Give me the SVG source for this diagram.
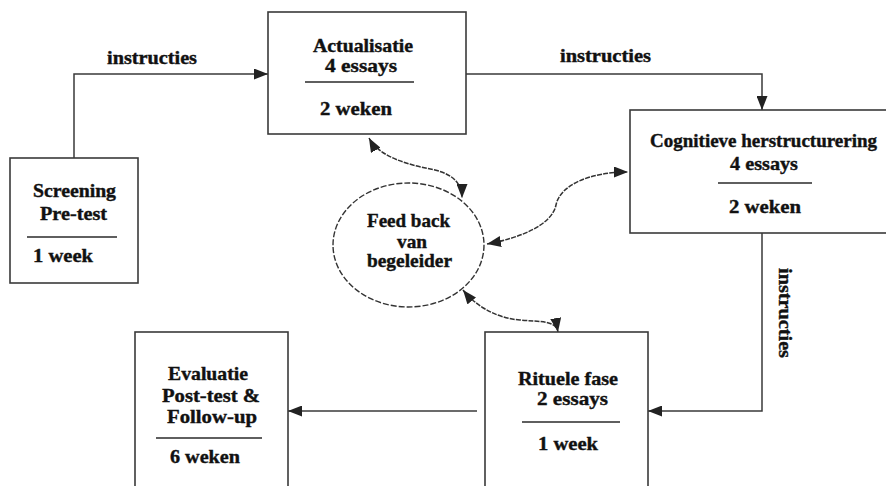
<svg xmlns="http://www.w3.org/2000/svg" width="886" height="486" viewBox="0 0 886 486">
<style>
.box{fill:#fff;stroke:#3a3a3a;stroke-width:1.6}
.div{stroke:#2a2a2a;stroke-width:1.4}
.t{font-family:"Liberation Serif","Times New Roman",serif;font-weight:bold;font-size:19px;fill:#111;stroke:#111;stroke-width:0.4}
.ln{fill:none;stroke:#3a3a3a;stroke-width:1.5}
.cv{fill:none;stroke:#333;stroke-width:1.5;stroke-dasharray:5 1.2}
</style>
<defs>
<marker id="ah" viewBox="0 0 14 11" refX="14" refY="5.5" markerWidth="14" markerHeight="11" markerUnits="userSpaceOnUse" orient="auto-start-reverse">
<path d="M0,0 L14,5.5 L0,11 z" fill="#222"/>
</marker>
</defs>
<rect width="886" height="486" fill="#fff"/>
<g id="connectors">
<path class="ln" d="M74,158 L74,74 L268,74" marker-end="url(#ah)"/>
<path class="ln" d="M466,74 L762,74 L762,110" marker-end="url(#ah)"/>
<path class="ln" d="M762,233 L762,411 L648,411" marker-end="url(#ah)"/>
<path class="ln" d="M477,411 L288,411" marker-end="url(#ah)"/>
<path class="cv" d="M369,138 C380,158 410,165 435,170 C455,175 462,185 462,198" marker-start="url(#ah)" marker-end="url(#ah)"/>
<path class="cv" d="M487,244 C520,238 552,225 556,205 C560,185 590,172 628,172" marker-start="url(#ah)" marker-end="url(#ah)"/>
<path class="cv" d="M463,290 C475,305 495,318 520,320 C540,322 556,320 558,332" marker-start="url(#ah)" marker-end="url(#ah)"/>
<text class="t" x="107" y="64" textLength="90" lengthAdjust="spacingAndGlyphs">instructies</text>
<text class="t" x="560" y="62" textLength="91" lengthAdjust="spacingAndGlyphs">instructies</text>
<text class="t" transform="translate(779,268) rotate(90)" x="0" y="0" textLength="90" lengthAdjust="spacingAndGlyphs">instructies</text>
</g>
<g id="screening">
<rect class="box" x="10" y="158" width="128" height="125"/>
<line class="div" x1="27" y1="237" x2="117" y2="237"/>
<text class="t" x="33" y="197" textLength="83" lengthAdjust="spacingAndGlyphs">Screening</text>
<text class="t" x="40" y="220" textLength="67" lengthAdjust="spacingAndGlyphs">Pre-test</text>
<text class="t" x="33" y="262" textLength="60" lengthAdjust="spacingAndGlyphs">1 week</text>
</g>
<g id="actualisatie">
<rect class="box" x="268" y="12" width="198" height="122"/>
<line class="div" x1="305" y1="82" x2="414" y2="82"/>
<text class="t" x="313" y="52" textLength="100" lengthAdjust="spacingAndGlyphs">Actualisatie</text>
<text class="t" x="325" y="72" textLength="72" lengthAdjust="spacingAndGlyphs">4 essays</text>
<text class="t" x="320" y="115" textLength="72" lengthAdjust="spacingAndGlyphs">2 weken</text>
</g>
<g id="cognitieve">
<rect class="box" x="630" y="110" width="262" height="123"/>
<line class="div" x1="718" y1="183" x2="812" y2="183"/>
<text class="t" x="650" y="147" textLength="227" lengthAdjust="spacingAndGlyphs">Cognitieve herstructurering</text>
<text class="t" x="730" y="170" textLength="68" lengthAdjust="spacingAndGlyphs">4 essays</text>
<text class="t" x="729" y="213" textLength="72" lengthAdjust="spacingAndGlyphs">2 weken</text>
</g>
<g id="feedback">
<ellipse cx="408.5" cy="245" rx="75.5" ry="62" fill="none" stroke="#333" stroke-width="1.4" stroke-dasharray="6 2"/>
<text class="t" x="367" y="227" textLength="83" lengthAdjust="spacingAndGlyphs">Feed back</text>
<text class="t" x="397" y="248" textLength="30" lengthAdjust="spacingAndGlyphs">van</text>
<text class="t" x="367" y="267" textLength="85" lengthAdjust="spacingAndGlyphs">begeleider</text>
</g>
<g id="rituele">
<rect class="box" x="485" y="332" width="163" height="160"/>
<line class="div" x1="522" y1="422" x2="620" y2="422"/>
<text class="t" x="518" y="385" textLength="100" lengthAdjust="spacingAndGlyphs">Rituele fase</text>
<text class="t" x="537" y="405" textLength="71" lengthAdjust="spacingAndGlyphs">2 essays</text>
<text class="t" x="538" y="450" textLength="60" lengthAdjust="spacingAndGlyphs">1 week</text>
</g>
<g id="evaluatie">
<rect class="box" x="135" y="332" width="153" height="160"/>
<line class="div" x1="156" y1="438" x2="262" y2="438"/>
<text class="t" x="168" y="380" textLength="80" lengthAdjust="spacingAndGlyphs">Evaluatie</text>
<text class="t" x="162" y="402" textLength="98" lengthAdjust="spacingAndGlyphs">Post-test &amp;</text>
<text class="t" x="167" y="423" textLength="90" lengthAdjust="spacingAndGlyphs">Follow-up</text>
<text class="t" x="170" y="463" textLength="70" lengthAdjust="spacingAndGlyphs">6 weken</text>
</g>
</svg>
